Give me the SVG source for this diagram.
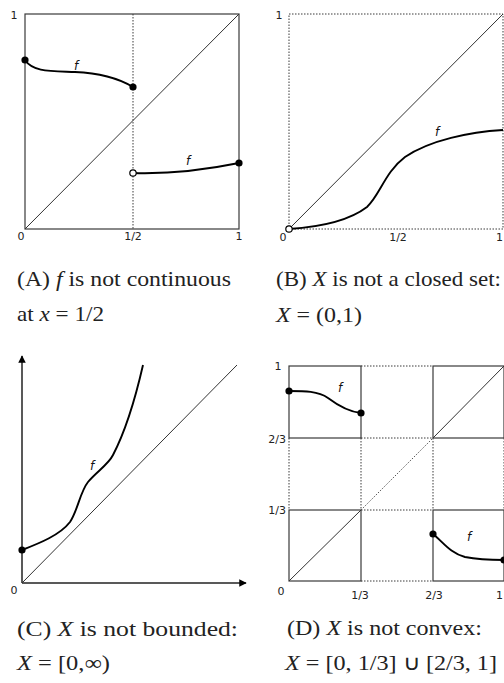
<svg xmlns="http://www.w3.org/2000/svg" width="504" height="683" viewBox="0 0 504 683">
<style>
.bg{fill:#fff}
.box{fill:none;stroke:#3a3a3a;stroke-width:1.2}
.dot{fill:none;stroke:#3a3a3a;stroke-width:1;stroke-dasharray:1.5,1.5}
.diag{fill:none;stroke:#333;stroke-width:1}
.ddiag{fill:none;stroke:#555;stroke-width:1;stroke-dasharray:1.5,1.5}
.f{fill:none;stroke:#000;stroke-width:1.9}
.pt{fill:#000}
.open{fill:#fff;stroke:#000;stroke-width:1.2}
.tick{font-family:"DejaVu Sans",Verdana,sans-serif;font-size:11px;fill:#222}
.fl{font-family:"DejaVu Sans",Verdana,sans-serif;font-size:12px;font-style:italic;fill:#111}
.cap{font-family:"Liberation Serif","Times New Roman",serif;font-size:21px;fill:#222}
.it{font-style:italic}
.axis{fill:none;stroke:#222;stroke-width:1.5}
</style>
<defs>
<marker id="arr" viewBox="0 0 10 10" refX="9" refY="5" markerWidth="5" markerHeight="5" orient="auto">
<path d="M0,0 L10,5 L0,10 z" fill="#000"/>
</marker>
</defs>
<rect class="bg" x="0" y="0" width="504" height="683"/>

<g id="panelA">
<rect class="box" x="25" y="14" width="214" height="215"/>
<line class="dot" x1="133" y1="14" x2="133" y2="229"/>
<line class="diag" x1="25" y1="229" x2="239" y2="14"/>
<path class="f" d="M25,60 C33,72 50,71 75,72 C100,73 118,78 133,87"/>
<path class="f" d="M133,173 C165,174 200,171 239,163"/>
<circle class="pt" cx="25" cy="60" r="3.6"/>
<circle class="pt" cx="133" cy="87" r="3.6"/>
<circle class="pt" cx="239" cy="163" r="3.6"/>
<circle class="open" cx="133" cy="173" r="3.2"/>
<text class="fl" x="76" y="70" text-anchor="middle">f</text>
<text class="fl" x="188" y="165" text-anchor="middle">f</text>
<text class="tick" x="14" y="19" text-anchor="middle">1</text>
<text class="tick" x="21" y="240" text-anchor="middle">0</text>
<text class="tick" x="133" y="240" text-anchor="middle">1/2</text>
<text class="tick" x="239" y="240" text-anchor="middle">1</text>
<text class="cap" x="17" y="286" textLength="214" lengthAdjust="spacingAndGlyphs">(A) <tspan class="it">f</tspan> is not continuous</text>
<text class="cap" x="17" y="321" textLength="87" lengthAdjust="spacingAndGlyphs">at <tspan class="it">x</tspan> = 1/2</text>
</g>

<g id="panelB">
<rect class="dot" x="289" y="14" width="214" height="215"/>
<line class="diag" x1="289" y1="229" x2="503" y2="14"/>
<path class="f" d="M289,229 C320,227 350,220 367,207 C380,195 385,172 405,157 C430,140 470,132 503,130"/>
<circle class="open" cx="289" cy="229" r="3.2"/>
<text class="fl" x="437" y="136" text-anchor="middle">f</text>
<text class="tick" x="279" y="19" text-anchor="middle">1</text>
<text class="tick" x="283" y="241" text-anchor="middle">0</text>
<text class="tick" x="398" y="241" text-anchor="middle">1/2</text>
<text class="tick" x="503" y="241" text-anchor="end">1</text>
<text class="cap" x="276" y="286" textLength="225" lengthAdjust="spacingAndGlyphs">(B) <tspan class="it">X</tspan>  is not a closed set:</text>
<text class="cap" x="276" y="322" textLength="86" lengthAdjust="spacingAndGlyphs"><tspan class="it">X</tspan> = (0,1)</text>
</g>

<g id="panelC">
<line class="axis" x1="22" y1="583" x2="22" y2="356" marker-end="url(#arr)"/>
<line class="axis" x1="22" y1="583" x2="246" y2="583" marker-end="url(#arr)"/>
<line class="diag" x1="22" y1="583" x2="237" y2="365"/>
<path class="f" d="M22,550 C40,543 60,535 70,522 C78,510 80,492 88,482 C96,472 108,465 113,455 C125,432 135,400 143,365"/>
<circle class="pt" cx="22" cy="550" r="3.6"/>
<text class="fl" x="92" y="470" text-anchor="middle">f</text>
<text class="tick" x="14" y="594" text-anchor="middle">0</text>
<text class="cap" x="17" y="636" textLength="221" lengthAdjust="spacingAndGlyphs">(C) <tspan class="it">X</tspan> is not bounded:</text>
<text class="cap" x="17" y="670" textLength="93" lengthAdjust="spacingAndGlyphs"><tspan class="it">X</tspan> = [0,∞)</text>
</g>

<g id="panelD">
<path class="dot" d="M361,366 H433 M361,438 H433 M361,510 H433 M361,581 H433 M289,438 V510 M361,438 V510 M433,438 V510 M504,438 V510"/>
<rect class="box" x="289" y="366" width="72" height="72"/>
<rect class="box" x="289" y="510" width="72" height="71"/>
<rect class="box" x="433" y="366" width="71" height="72"/>
<rect class="box" x="433" y="510" width="71" height="71"/>
<line class="diag" x1="289" y1="581" x2="361" y2="510"/>
<line class="ddiag" x1="361" y1="510" x2="433" y2="438"/>
<line class="diag" x1="433" y1="438" x2="504" y2="366"/>
<path class="f" d="M289,391 C305,391 318,391 328,398 C340,407 350,412 361,413"/>
<path class="f" d="M433,534 C443,542 450,553 465,557 C480,560 495,560 504,560"/>
<circle class="pt" cx="289" cy="391" r="3.6"/>
<circle class="pt" cx="361" cy="413" r="3.6"/>
<circle class="pt" cx="433" cy="534" r="3.6"/>
<circle class="pt" cx="504" cy="560" r="3.6"/>
<text class="fl" x="340" y="392" text-anchor="middle">f</text>
<text class="fl" x="469" y="541" text-anchor="middle">f</text>
<text class="tick" x="278" y="370" text-anchor="middle">1</text>
<text class="tick" x="286" y="443" text-anchor="end">2/3</text>
<text class="tick" x="286" y="514" text-anchor="end">1/3</text>
<text class="tick" x="281" y="595" text-anchor="middle">0</text>
<text class="tick" x="360" y="599" text-anchor="middle">1/3</text>
<text class="tick" x="434" y="599" text-anchor="middle">2/3</text>
<text class="tick" x="503" y="599" text-anchor="end">1</text>
<text class="cap" x="287" y="635" textLength="195" lengthAdjust="spacingAndGlyphs">(D) <tspan class="it">X</tspan>  is not convex:</text>
<text class="cap" x="285" y="670" textLength="212" lengthAdjust="spacingAndGlyphs"><tspan class="it">X</tspan> = [0, 1/3] ∪ [2/3, 1]</text>
</g>
</svg>
